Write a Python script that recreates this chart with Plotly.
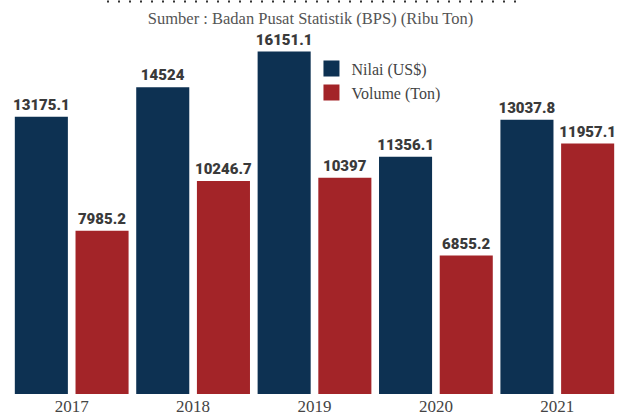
import plotly.graph_objects as go

years = ["2017", "2018", "2019", "2020", "2021"]
nilai = [13175.1, 14524, 16151.1, 11356.1, 13037.8]
volume = [7985.2, 10246.7, 10397, 6855.2, 11957.1]
series_names = ["Nilai (US$)", "Volume (Ton)"]
title_text = "Sumber : Badan Pusat Statistik (BPS) (Ribu Ton)"

NAVY = "#0d3152"
RED = "#a32428"
LABEL_FONT = dict(family="Roboto", size=15, color="#3a3a3a", weight=900)


def fmt(v):
    return f"{v:.1f}".rstrip("0").rstrip(".")


fig = go.Figure()
for vals, color, name in [(nilai, NAVY, series_names[0]), (volume, RED, series_names[1])]:
    fig.add_trace(go.Bar(
        x=years, y=vals, name=name, marker=dict(color=color, line=dict(width=0)),
        text=[fmt(v) for v in vals], textposition="outside", textfont=LABEL_FONT,
        constraintext="none", cliponaxis=False, showlegend=False,
    ))
    fig.add_trace(go.Scatter(
        x=[None], y=[None], mode="markers", name=name,
        marker=dict(symbol="square", size=18, color=color),
    ))

fig.update_layout(
    width=621, height=415,
    margin=dict(l=11, r=3, t=40, b=21, autoexpand=False),
    paper_bgcolor="white", plot_bgcolor="white",
    barmode="group", bargap=0.0, bargroupgap=0.126,
    showlegend=True,
    legend=dict(
        x=0.495, y=0.967, xanchor="left", yanchor="top",
        bgcolor="rgba(0,0,0,0)", font=dict(family="Liberation Serif", size=16, color="#444"),
        itemsizing="trace", tracegroupgap=0,
    ),
    title=dict(
        text=title_text, x=0.5, xanchor="center", y=0.955, yanchor="middle",
        font=dict(family="Liberation Serif", size=16.5, color="#555"),
    ),
)
fig.update_xaxes(
    showgrid=False, showline=False, zeroline=False, ticks="",
    tickfont=dict(family="Liberation Serif", size=17, color="#444"),
    range=[-0.5, 4.5],
)
fig.update_yaxes(
    range=[546, 16676], showgrid=False, showline=False, zeroline=False,
    showticklabels=False, ticks="",
)
fig.add_shape(
    type="line", xref="paper", yref="paper",
    x0=(107 - 11) / 607, x1=(522 - 11) / 607, y0=1.1087, y1=1.1087,
    line=dict(color="#333", width=2, dash="2px,9px"),
)

fig.write_html("out.html", config={"displayModeBar": False},
               post_script="document.body.style.margin='0';")
